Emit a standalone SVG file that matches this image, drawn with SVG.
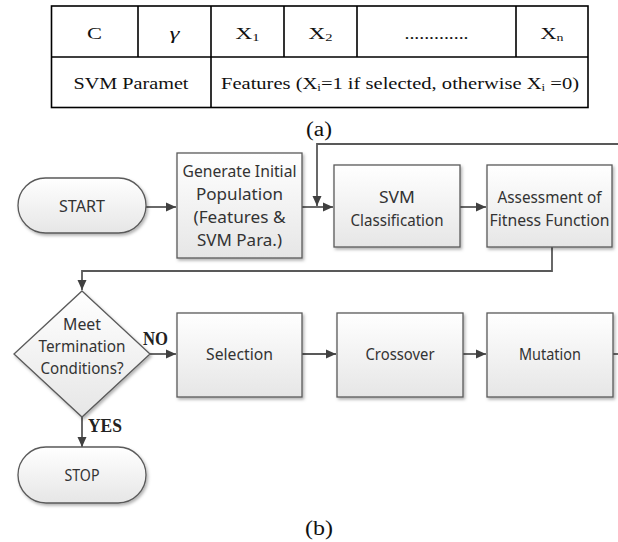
<svg xmlns="http://www.w3.org/2000/svg" width="618" height="542" viewBox="0 0 618 542">
<defs>
<linearGradient id="g" x1="0" y1="0" x2="0" y2="1">
<stop offset="0" stop-color="#ffffff"/>
<stop offset="1" stop-color="#e6e6e6"/>
</linearGradient>
<filter id="sh" x="-10%" y="-10%" width="130%" height="130%">
<feDropShadow dx="1.5" dy="2" stdDeviation="1.5" flood-color="#000" flood-opacity="0.3"/>
</filter>
<marker id="ah" viewBox="0 0 10 10" refX="10" refY="5" markerWidth="10" markerHeight="10" markerUnits="userSpaceOnUse" orient="auto">
<path d="M0,0.5 L10,5 L0,9.5 z" fill="#404040"/>
</marker>
</defs>
<style>
.tb{fill:none;stroke:#000;stroke-width:1.6}
.tt{font-family:"Liberation Serif","Times New Roman",serif;font-size:17.5px;fill:#111;text-anchor:middle}
.nd{fill:url(#g);stroke:#5a5a5a;stroke-width:1.3;filter:url(#sh)}
.lb{font-family:"Noto Sans","Liberation Sans",sans-serif;font-size:16px;fill:#333;text-anchor:middle}
.cn{fill:none;stroke:#595959;stroke-width:1.8}
.yn{font-family:"Liberation Serif","Times New Roman",serif;font-size:18px;font-weight:bold;fill:#222}
.cap{font-family:"Liberation Serif","Times New Roman",serif;font-size:20px;fill:#111;text-anchor:middle}
</style>
<rect width="618" height="542" fill="#fff"/>

<g id="table">
<rect class="tb" x="51.5" y="6" width="536.5" height="101.5"/>
<path class="tb" d="M51.5,57 H588 M138,6 V57 M211,6 V107.5 M284,6 V57 M357,6 V57 M516,6 V57"/>
<text class="tt" x="94.5" y="39" textLength="15" lengthAdjust="spacingAndGlyphs">C</text>
<text class="tt" x="174.5" y="39" font-style="italic" textLength="10" lengthAdjust="spacingAndGlyphs">γ</text>
<text class="tt" x="247.5" y="39" textLength="24" lengthAdjust="spacingAndGlyphs">X<tspan font-size="11" dy="2">1</tspan></text>
<text class="tt" x="320.5" y="39" textLength="24" lengthAdjust="spacingAndGlyphs">X<tspan font-size="11" dy="2">2</tspan></text>
<text class="tt" x="436.5" y="39" textLength="64" lengthAdjust="spacingAndGlyphs">.............</text>
<text class="tt" x="552" y="39" textLength="23" lengthAdjust="spacingAndGlyphs">X<tspan font-size="11" dy="2">n</tspan></text>
<text class="tt" x="131" y="89" textLength="115" lengthAdjust="spacingAndGlyphs">SVM Paramet</text>
<text class="tt" x="400" y="89" textLength="358" lengthAdjust="spacingAndGlyphs">Features (X<tspan font-size="11" dy="2">i</tspan><tspan dy="-2">=1 if selected, otherwise X</tspan><tspan font-size="11" dy="2">i</tspan><tspan dy="-2"> =0)</tspan></text>
</g>
<text class="cap" x="319" y="136" textLength="26" lengthAdjust="spacingAndGlyphs">(a)</text>

<g id="connectors">
<path class="cn" d="M146,207 H176" marker-end="url(#ah)"/>
<path class="cn" d="M302,207 H333" marker-end="url(#ah)"/>
<path class="cn" d="M618,144 H317 V206" marker-end="url(#ah)"/>
<path class="cn" d="M460,207 H486" marker-end="url(#ah)"/>
<path class="cn" d="M552,247 V271 H82 V290" marker-end="url(#ah)"/>
<path class="cn" d="M150,354 H176" marker-end="url(#ah)"/>
<path class="cn" d="M302,354 H336" marker-end="url(#ah)"/>
<path class="cn" d="M463,354 H486" marker-end="url(#ah)"/>
<path class="cn" d="M613,354 H618"/>
<path class="cn" d="M82,417 V447" marker-end="url(#ah)"/>
<text class="yn" x="143" y="345" textLength="25" lengthAdjust="spacingAndGlyphs">NO</text>
<text class="yn" x="88" y="432" textLength="34" lengthAdjust="spacingAndGlyphs">YES</text>
</g>

<g id="start">
<rect class="nd" x="18" y="178" width="128" height="55" rx="27.5"/>
<text class="lb" x="82" y="211.5" textLength="46" lengthAdjust="spacingAndGlyphs">START</text>
</g>
<g id="generate">
<rect class="nd" x="177" y="153" width="125" height="105"/>
<text class="lb" x="239.5" y="176.5" textLength="114" lengthAdjust="spacingAndGlyphs">Generate Initial</text>
<text class="lb" x="239.5" y="199.5" textLength="87" lengthAdjust="spacingAndGlyphs">Population</text>
<text class="lb" x="239.5" y="222.5" textLength="92" lengthAdjust="spacingAndGlyphs">(Features &amp;</text>
<text class="lb" x="239.5" y="245.5" textLength="85" lengthAdjust="spacingAndGlyphs">SVM Para.)</text>
</g>
<g id="svm">
<rect class="nd" x="334" y="165" width="126" height="82"/>
<text class="lb" x="397" y="202.5" textLength="36" lengthAdjust="spacingAndGlyphs">SVM</text>
<text class="lb" x="397" y="225.5" textLength="93" lengthAdjust="spacingAndGlyphs">Classification</text>
</g>
<g id="assessment">
<rect class="nd" x="487" y="165" width="125" height="82"/>
<text class="lb" x="549.5" y="202.5" textLength="104" lengthAdjust="spacingAndGlyphs">Assessment of</text>
<text class="lb" x="549.5" y="225.5" textLength="120" lengthAdjust="spacingAndGlyphs">Fitness Function</text>
</g>
<g id="decision">
<polygon class="nd" points="82,291 150,354 82,417 14,354"/>
<text class="lb" x="82" y="329.5" textLength="38" lengthAdjust="spacingAndGlyphs">Meet</text>
<text class="lb" x="82" y="351.5" textLength="87" lengthAdjust="spacingAndGlyphs">Termination</text>
<text class="lb" x="82" y="373.5" textLength="83" lengthAdjust="spacingAndGlyphs">Conditions?</text>
</g>
<g id="selection">
<rect class="nd" x="177" y="313" width="125" height="84"/>
<text class="lb" x="239.5" y="359.5" textLength="67" lengthAdjust="spacingAndGlyphs">Selection</text>
</g>
<g id="crossover">
<rect class="nd" x="337" y="313" width="126" height="84"/>
<text class="lb" x="400" y="359.5" textLength="69" lengthAdjust="spacingAndGlyphs">Crossover</text>
</g>
<g id="mutation">
<rect class="nd" x="487" y="313" width="126" height="84"/>
<text class="lb" x="550" y="359.5" textLength="62" lengthAdjust="spacingAndGlyphs">Mutation</text>
</g>
<g id="stop">
<rect class="nd" x="18" y="447" width="128" height="56" rx="28"/>
<text class="lb" x="82" y="480.5" textLength="35" lengthAdjust="spacingAndGlyphs">STOP</text>
</g>
<text class="cap" x="319" y="535" textLength="28" lengthAdjust="spacingAndGlyphs">(b)</text>
</svg>
